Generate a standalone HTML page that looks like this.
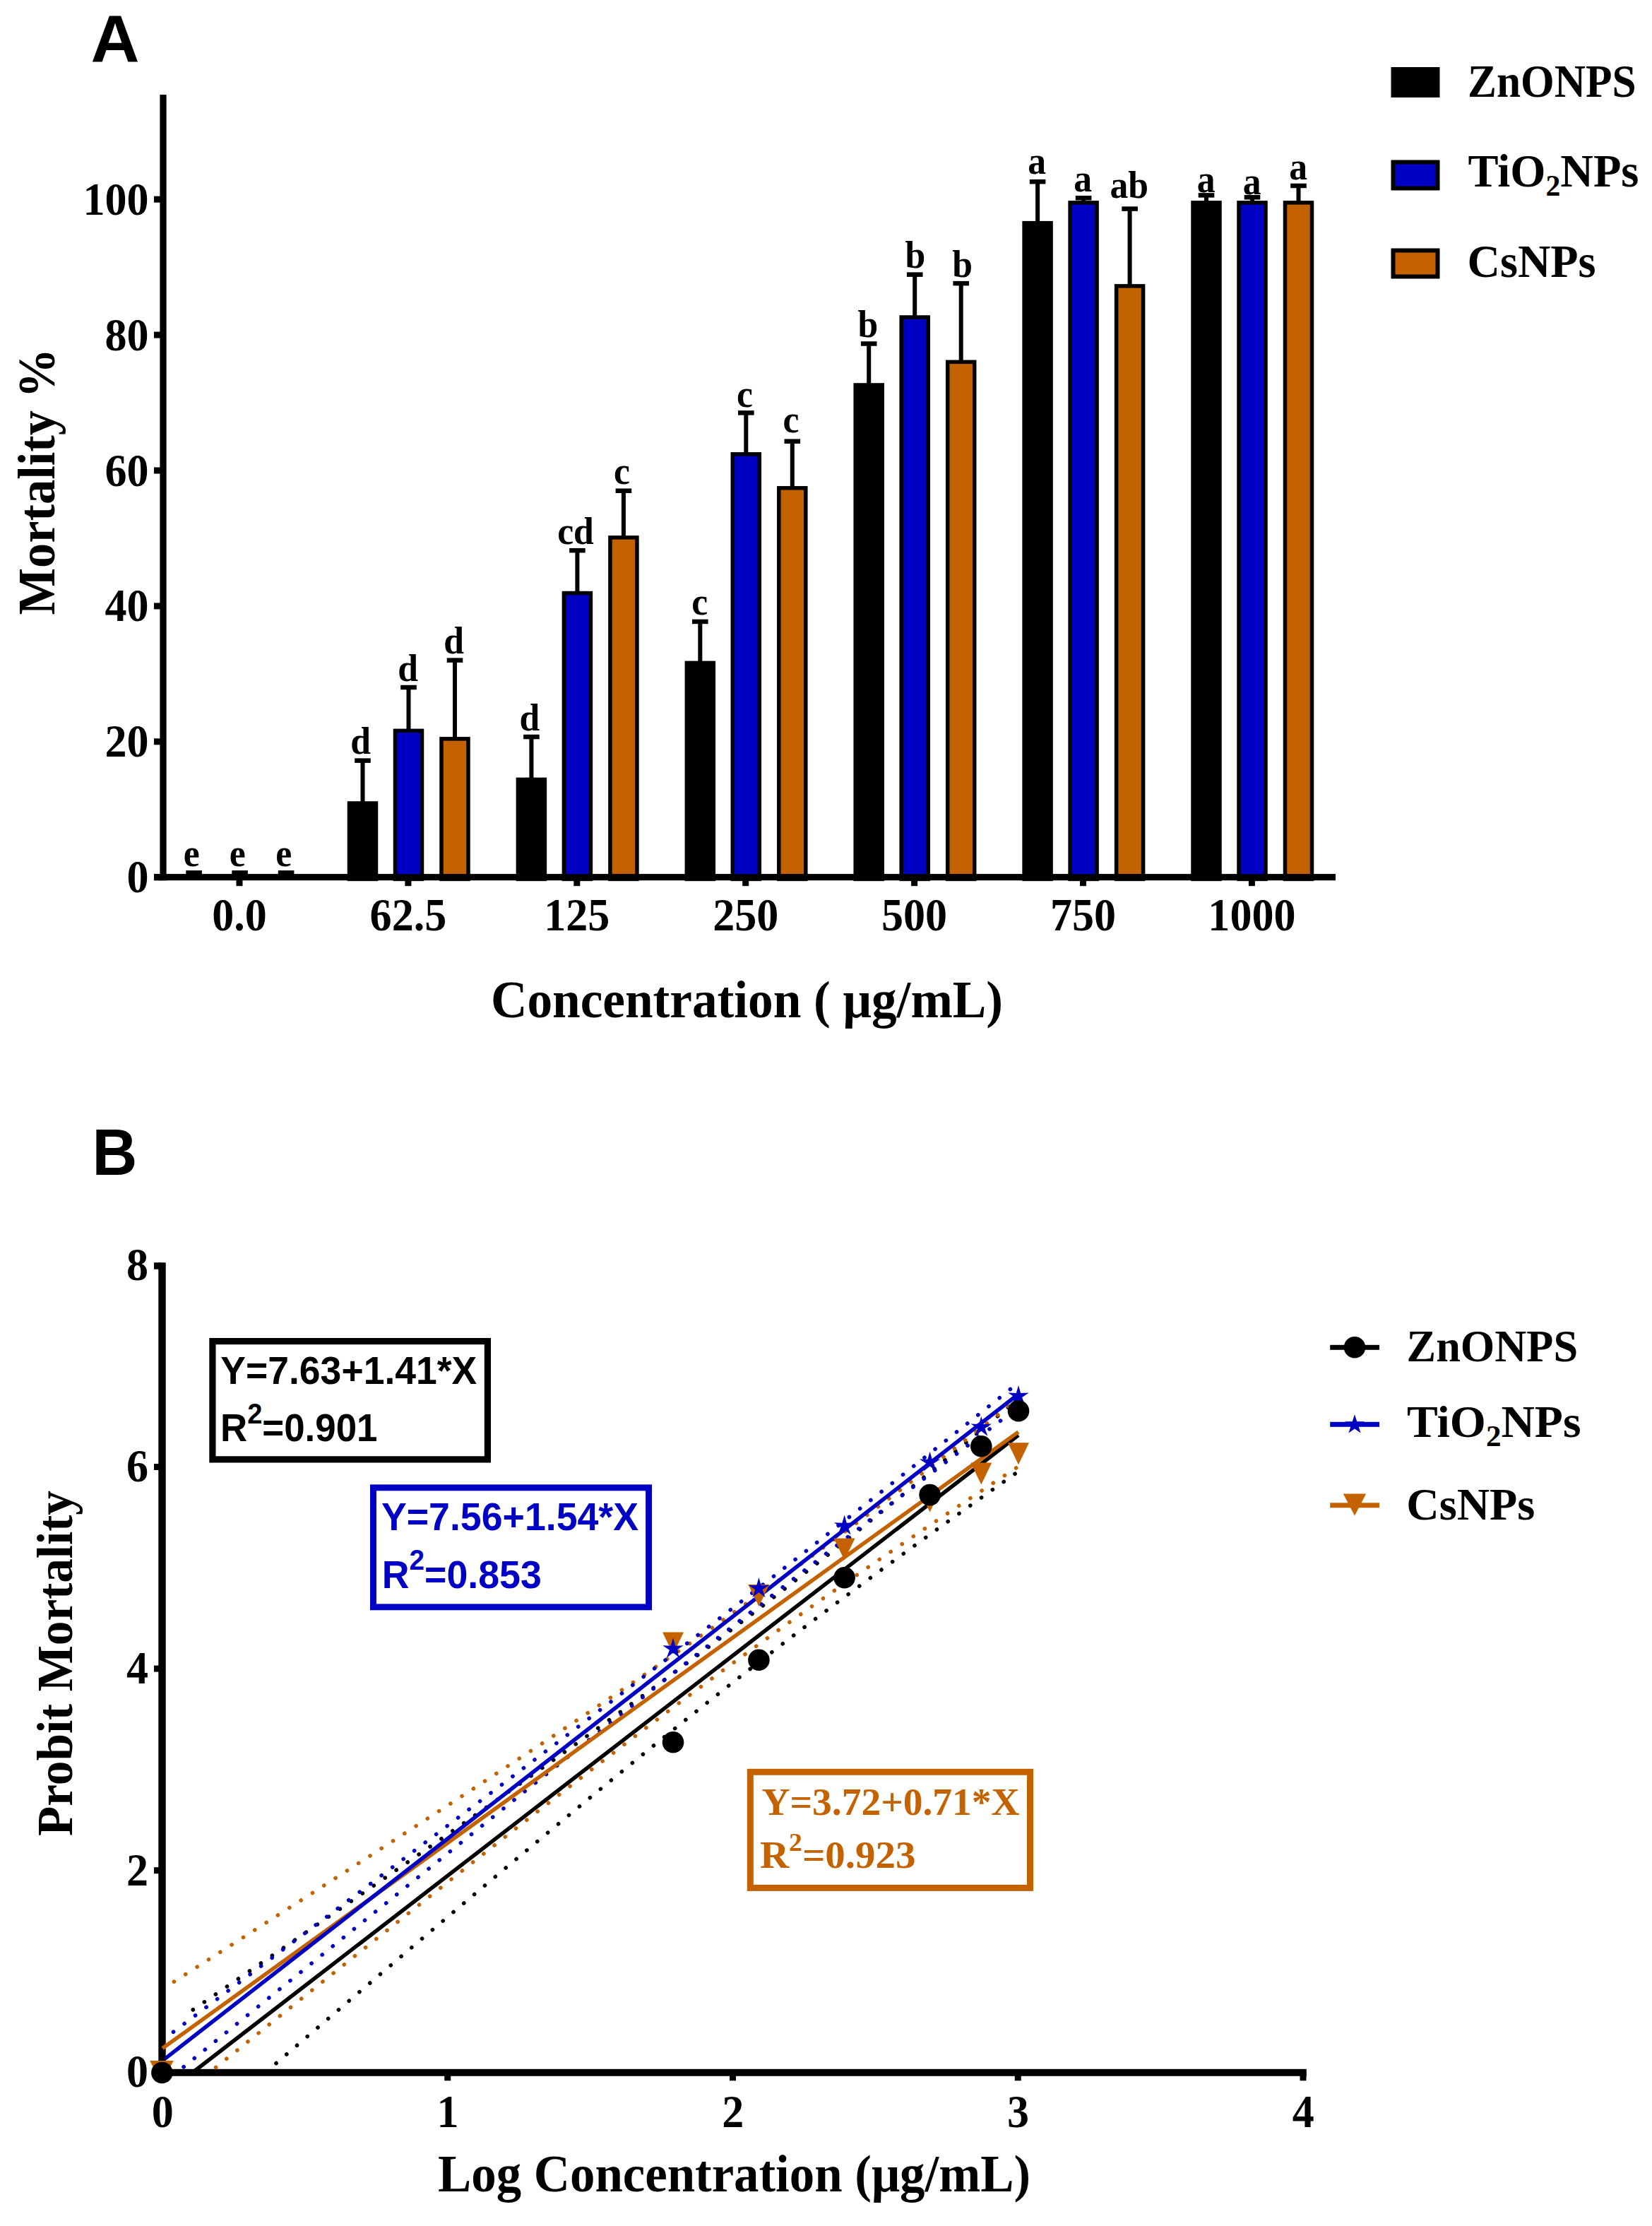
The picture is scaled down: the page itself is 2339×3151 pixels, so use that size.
<!DOCTYPE html>
<html lang="en">
<head>
<meta charset="utf-8">
<title>Mortality and probit regression figure</title>
<style>
html,body{margin:0;padding:0;background:#fff;}
body{width:2339px;height:3151px;overflow:hidden;}
svg{display:block;}
</style>
</head>
<body>
<svg width="2339" height="3151" viewBox="0 0 2339 3151">
<rect width="2339" height="3151" fill="#fff"/>
<g id="panelA">
<text x="128.5" y="88" font-family='"Liberation Sans", sans-serif' font-weight="700" font-size="95" textLength="69" lengthAdjust="spacingAndGlyphs">A</text>
<rect x="271.6" y="1235.46" width="6" height="8.24" fill="#000"/>
<rect x="263.3" y="1232.16" width="22.6" height="6.5" fill="#000"/>
<text transform="translate(271.2 1225.96) scale(0.94 1)" text-anchor="middle" font-family='"Liberation Serif", serif' font-weight="700" font-size="55">e</text>
<rect x="336.6" y="1235.46" width="6" height="8.24" fill="#000"/>
<rect x="328.3" y="1232.16" width="22.6" height="6.5" fill="#000"/>
<text transform="translate(336.2 1225.96) scale(0.94 1)" text-anchor="middle" font-family='"Liberation Serif", serif' font-weight="700" font-size="55">e</text>
<rect x="402.1" y="1235.46" width="6" height="8.24" fill="#000"/>
<rect x="393.8" y="1232.16" width="22.6" height="6.5" fill="#000"/>
<text transform="translate(401.7 1225.96) scale(0.94 1)" text-anchor="middle" font-family='"Liberation Serif", serif' font-weight="700" font-size="55">e</text>
<rect x="510.5" y="1076.67" width="6" height="59.57" fill="#000"/>
<rect x="502.2" y="1073.37" width="22.6" height="6.5" fill="#000"/>
<rect x="494.5" y="1136.99" width="38" height="107.46" fill="#000000" stroke="#000" stroke-width="5.5"/>
<text transform="translate(510.6 1067.17) scale(0.94 1)" text-anchor="middle" font-family='"Liberation Serif", serif' font-weight="700" font-size="55">d</text>
<rect x="575.5" y="973.04" width="6" height="60.53" fill="#000"/>
<rect x="567.2" y="969.74" width="22.6" height="6.5" fill="#000"/>
<rect x="559.5" y="1034.32" width="38" height="210.13" fill="#0000C4" stroke="#000" stroke-width="5.5"/>
<text transform="translate(577.6 963.54) scale(0.94 1)" text-anchor="middle" font-family='"Liberation Serif", serif' font-weight="700" font-size="55">d</text>
<rect x="641" y="934.66" width="6" height="110.42" fill="#000"/>
<rect x="632.7" y="931.36" width="22.6" height="6.5" fill="#000"/>
<rect x="625" y="1045.83" width="38" height="198.62" fill="#C46200" stroke="#000" stroke-width="5.5"/>
<text transform="translate(642.7 925.16) scale(0.94 1)" text-anchor="middle" font-family='"Liberation Serif", serif' font-weight="700" font-size="55">d</text>
<rect x="749.4" y="1043.08" width="6" height="59.57" fill="#000"/>
<rect x="741.1" y="1039.78" width="22.6" height="6.5" fill="#000"/>
<rect x="733.4" y="1103.4" width="38" height="141.05" fill="#000000" stroke="#000" stroke-width="5.5"/>
<text transform="translate(750 1033.58) scale(0.94 1)" text-anchor="middle" font-family='"Liberation Serif", serif' font-weight="700" font-size="55">d</text>
<rect x="814.4" y="779.22" width="6" height="59.57" fill="#000"/>
<rect x="806.1" y="775.92" width="22.6" height="6.5" fill="#000"/>
<rect x="798.4" y="839.54" width="38" height="404.91" fill="#0000C4" stroke="#000" stroke-width="5.5"/>
<text transform="translate(815 769.72) scale(0.94 1)" text-anchor="middle" font-family='"Liberation Serif", serif' font-weight="700" font-size="55">cd</text>
<rect x="879.9" y="694.78" width="6" height="65.33" fill="#000"/>
<rect x="871.6" y="691.49" width="22.6" height="6.5" fill="#000"/>
<rect x="863.9" y="760.86" width="38" height="483.59" fill="#C46200" stroke="#000" stroke-width="5.5"/>
<text transform="translate(880.5 685.28) scale(0.94 1)" text-anchor="middle" font-family='"Liberation Serif", serif' font-weight="700" font-size="55">c</text>
<rect x="988.3" y="879.97" width="6" height="57.65" fill="#000"/>
<rect x="980" y="876.67" width="22.6" height="6.5" fill="#000"/>
<rect x="972.3" y="938.37" width="38" height="306.08" fill="#000000" stroke="#000" stroke-width="5.5"/>
<text transform="translate(990.7 870.47) scale(0.94 1)" text-anchor="middle" font-family='"Liberation Serif", serif' font-weight="700" font-size="55">c</text>
<rect x="1053.3" y="584.44" width="6" height="57.65" fill="#000"/>
<rect x="1045" y="581.14" width="22.6" height="6.5" fill="#000"/>
<rect x="1037.3" y="642.84" width="38" height="601.61" fill="#0000C4" stroke="#000" stroke-width="5.5"/>
<text transform="translate(1054.4 575.94) scale(0.94 1)" text-anchor="middle" font-family='"Liberation Serif", serif' font-weight="700" font-size="55">c</text>
<rect x="1118.8" y="624.74" width="6" height="65.33" fill="#000"/>
<rect x="1110.5" y="621.44" width="22.6" height="6.5" fill="#000"/>
<rect x="1102.8" y="690.82" width="38" height="553.63" fill="#C46200" stroke="#000" stroke-width="5.5"/>
<text transform="translate(1119.9 611.74) scale(0.94 1)" text-anchor="middle" font-family='"Liberation Serif", serif' font-weight="700" font-size="55">c</text>
<rect x="1227.2" y="486.57" width="6" height="57.65" fill="#000"/>
<rect x="1218.9" y="483.27" width="22.6" height="6.5" fill="#000"/>
<rect x="1211.2" y="544.97" width="38" height="699.48" fill="#000000" stroke="#000" stroke-width="5.5"/>
<text transform="translate(1228.8 477.07) scale(0.94 1)" text-anchor="middle" font-family='"Liberation Serif", serif' font-weight="700" font-size="55">b</text>
<rect x="1292.2" y="388.7" width="6" height="59.57" fill="#000"/>
<rect x="1283.9" y="385.4" width="22.6" height="6.5" fill="#000"/>
<rect x="1276.2" y="449.02" width="38" height="795.43" fill="#0000C4" stroke="#000" stroke-width="5.5"/>
<text transform="translate(1295.8 379.2) scale(0.94 1)" text-anchor="middle" font-family='"Liberation Serif", serif' font-weight="700" font-size="55">b</text>
<rect x="1357.7" y="401.18" width="6" height="110.42" fill="#000"/>
<rect x="1349.4" y="397.88" width="22.6" height="6.5" fill="#000"/>
<rect x="1341.7" y="512.35" width="38" height="732.1" fill="#C46200" stroke="#000" stroke-width="5.5"/>
<text transform="translate(1362.7 391.68) scale(0.94 1)" text-anchor="middle" font-family='"Liberation Serif", serif' font-weight="700" font-size="55">b</text>
<rect x="1466.1" y="257.25" width="6" height="57.65" fill="#000"/>
<rect x="1457.8" y="253.95" width="22.6" height="6.5" fill="#000"/>
<rect x="1450.1" y="315.65" width="38" height="928.8" fill="#000000" stroke="#000" stroke-width="5.5"/>
<text transform="translate(1468.2 245.75) scale(0.94 1)" text-anchor="middle" font-family='"Liberation Serif", serif' font-weight="700" font-size="55">a</text>
<rect x="1531.1" y="280.28" width="6" height="5.84" fill="#000"/>
<rect x="1522.8" y="276.98" width="22.6" height="6.5" fill="#000"/>
<rect x="1515.1" y="286.87" width="38" height="957.58" fill="#0000C4" stroke="#000" stroke-width="5.5"/>
<text transform="translate(1533.2 270.78) scale(0.94 1)" text-anchor="middle" font-family='"Liberation Serif", serif' font-weight="700" font-size="55">a</text>
<rect x="1596.6" y="295.63" width="6" height="108.5" fill="#000"/>
<rect x="1588.3" y="292.33" width="22.6" height="6.5" fill="#000"/>
<rect x="1580.6" y="404.89" width="38" height="839.56" fill="#C46200" stroke="#000" stroke-width="5.5"/>
<text transform="translate(1598.7 280.13) scale(0.94 1)" text-anchor="middle" font-family='"Liberation Serif", serif' font-weight="700" font-size="55">ab</text>
<rect x="1705" y="276.44" width="6" height="9.68" fill="#000"/>
<rect x="1696.7" y="273.14" width="22.6" height="6.5" fill="#000"/>
<rect x="1689" y="286.87" width="38" height="957.58" fill="#000000" stroke="#000" stroke-width="5.5"/>
<text transform="translate(1707.6 271.94) scale(0.94 1)" text-anchor="middle" font-family='"Liberation Serif", serif' font-weight="700" font-size="55">a</text>
<rect x="1770" y="279.32" width="6" height="6.8" fill="#000"/>
<rect x="1761.7" y="276.02" width="22.6" height="6.5" fill="#000"/>
<rect x="1754" y="286.87" width="38" height="957.58" fill="#0000C4" stroke="#000" stroke-width="5.5"/>
<text transform="translate(1772.6 275.32) scale(0.94 1)" text-anchor="middle" font-family='"Liberation Serif", serif' font-weight="700" font-size="55">a</text>
<rect x="1835.5" y="263.01" width="6" height="23.11" fill="#000"/>
<rect x="1827.2" y="259.71" width="22.6" height="6.5" fill="#000"/>
<rect x="1819.5" y="286.87" width="38" height="957.58" fill="#C46200" stroke="#000" stroke-width="5.5"/>
<text transform="translate(1838.1 253.51) scale(0.94 1)" text-anchor="middle" font-family='"Liberation Serif", serif' font-weight="700" font-size="55">a</text>
<rect x="226.4" y="134" width="9.2" height="1112.3" fill="#000"/>
<rect x="218" y="1237.1" width="1673" height="9.2" fill="#000"/>
<rect x="218" y="1237.2" width="10" height="9" fill="#000"/>
<text transform="translate(210.5 1263.2) scale(0.94 1)" text-anchor="end" font-family='"Liberation Serif", serif' font-weight="700" font-size="66">0</text>
<rect x="218" y="1045.3" width="10" height="9" fill="#000"/>
<text transform="translate(210.5 1071.3) scale(0.94 1)" text-anchor="end" font-family='"Liberation Serif", serif' font-weight="700" font-size="66">20</text>
<rect x="218" y="853.4" width="10" height="9" fill="#000"/>
<text transform="translate(210.5 879.4) scale(0.94 1)" text-anchor="end" font-family='"Liberation Serif", serif' font-weight="700" font-size="66">40</text>
<rect x="218" y="661.5" width="10" height="9" fill="#000"/>
<text transform="translate(210.5 687.5) scale(0.94 1)" text-anchor="end" font-family='"Liberation Serif", serif' font-weight="700" font-size="66">60</text>
<rect x="218" y="469.6" width="10" height="9" fill="#000"/>
<text transform="translate(210.5 495.6) scale(0.94 1)" text-anchor="end" font-family='"Liberation Serif", serif' font-weight="700" font-size="66">80</text>
<rect x="218" y="277.7" width="10" height="9" fill="#000"/>
<text transform="translate(210.5 303.7) scale(0.94 1)" text-anchor="end" font-family='"Liberation Serif", serif' font-weight="700" font-size="66">100</text>
<rect x="334.5" y="1241.7" width="9" height="12.5" fill="#000"/>
<text transform="translate(339 1316.8) scale(0.94 1)" text-anchor="middle" font-family='"Liberation Serif", serif' font-weight="700" font-size="66">0.0</text>
<rect x="573.4" y="1241.7" width="9" height="12.5" fill="#000"/>
<text transform="translate(577.9 1316.8) scale(0.94 1)" text-anchor="middle" font-family='"Liberation Serif", serif' font-weight="700" font-size="66">62.5</text>
<rect x="812.3" y="1241.7" width="9" height="12.5" fill="#000"/>
<text transform="translate(816.8 1316.8) scale(0.94 1)" text-anchor="middle" font-family='"Liberation Serif", serif' font-weight="700" font-size="66">125</text>
<rect x="1051.2" y="1241.7" width="9" height="12.5" fill="#000"/>
<text transform="translate(1055.7 1316.8) scale(0.94 1)" text-anchor="middle" font-family='"Liberation Serif", serif' font-weight="700" font-size="66">250</text>
<rect x="1290.1" y="1241.7" width="9" height="12.5" fill="#000"/>
<text transform="translate(1294.6 1316.8) scale(0.94 1)" text-anchor="middle" font-family='"Liberation Serif", serif' font-weight="700" font-size="66">500</text>
<rect x="1529" y="1241.7" width="9" height="12.5" fill="#000"/>
<text transform="translate(1533.5 1316.8) scale(0.94 1)" text-anchor="middle" font-family='"Liberation Serif", serif' font-weight="700" font-size="66">750</text>
<rect x="1767.9" y="1241.7" width="9" height="12.5" fill="#000"/>
<text transform="translate(1772.4 1316.8) scale(0.94 1)" text-anchor="middle" font-family='"Liberation Serif", serif' font-weight="700" font-size="66">1000</text>
<text transform="translate(76.5 870.5) rotate(-90)" font-family='"Liberation Serif", serif' font-weight="700" font-size="75" textLength="377.5" lengthAdjust="spacingAndGlyphs">Mortality %</text>
<text x="695" y="1440" font-family='"Liberation Serif", serif' font-weight="700" font-size="75" textLength="725" lengthAdjust="spacingAndGlyphs">Concentration ( μg/mL)</text>
<rect x="1972.5" y="98" width="63" height="37" fill="#000000" stroke="#000" stroke-width="6"/>
<rect x="1972.5" y="229.5" width="63" height="37" fill="#0000C4" stroke="#000" stroke-width="6"/>
<rect x="1972.5" y="354.5" width="63" height="37" fill="#C46200" stroke="#000" stroke-width="6"/>
<text x="2078" y="137.2" font-family='"Liberation Serif", serif' font-weight="700" font-size="65" textLength="238.5" lengthAdjust="spacingAndGlyphs">ZnONPS</text>
<text x="2078.5" y="264" font-family='"Liberation Serif", serif' font-weight="700" font-size="65" textLength="242" lengthAdjust="spacingAndGlyphs">TiO<tspan font-size="42" dy="13">2</tspan><tspan dy="-13">NPs</tspan></text>
<text x="2077.5" y="392" font-family='"Liberation Serif", serif' font-weight="700" font-size="65" textLength="182" lengthAdjust="spacingAndGlyphs">CsNPs</text>
</g>
<g id="panelB">
<text x="130.6" y="1663" font-family='"Liberation Sans", sans-serif' font-weight="700" font-size="92.5" textLength="63.9" lengthAdjust="spacingAndGlyphs">B</text>
<rect x="224.3" y="1787.2" width="10.4" height="1151.6" fill="#000"/>
<rect x="218" y="2928.8" width="1631.8" height="10" fill="#000"/>
<rect x="218" y="2928.8" width="10" height="9" fill="#000"/>
<text transform="translate(210 2954.2) scale(0.94 1)" text-anchor="end" font-family='"Liberation Serif", serif' font-weight="700" font-size="66">0</text>
<rect x="218" y="2643.2" width="10" height="9" fill="#000"/>
<text transform="translate(210 2668.6) scale(0.94 1)" text-anchor="end" font-family='"Liberation Serif", serif' font-weight="700" font-size="66">2</text>
<rect x="218" y="2357.6" width="10" height="9" fill="#000"/>
<text transform="translate(210 2383) scale(0.94 1)" text-anchor="end" font-family='"Liberation Serif", serif' font-weight="700" font-size="66">4</text>
<rect x="218" y="2072" width="10" height="9" fill="#000"/>
<text transform="translate(210 2097.4) scale(0.94 1)" text-anchor="end" font-family='"Liberation Serif", serif' font-weight="700" font-size="66">6</text>
<rect x="218" y="1787.2" width="10" height="9.5" fill="#000"/>
<text transform="translate(210 1811.8) scale(0.94 1)" text-anchor="end" font-family='"Liberation Serif", serif' font-weight="700" font-size="66">8</text>
<rect x="225.5" y="2933.3" width="9" height="12" fill="#000"/>
<text transform="translate(230.2 3010.5) scale(0.94 1)" text-anchor="middle" font-family='"Liberation Serif", serif' font-weight="700" font-size="66">0</text>
<rect x="629.25" y="2933.3" width="9" height="12" fill="#000"/>
<text transform="translate(633.95 3010.5) scale(0.94 1)" text-anchor="middle" font-family='"Liberation Serif", serif' font-weight="700" font-size="66">1</text>
<rect x="1033" y="2933.3" width="9" height="12" fill="#000"/>
<text transform="translate(1037.7 3010.5) scale(0.94 1)" text-anchor="middle" font-family='"Liberation Serif", serif' font-weight="700" font-size="66">2</text>
<rect x="1436.75" y="2933.3" width="9" height="12" fill="#000"/>
<text transform="translate(1441.45 3010.5) scale(0.94 1)" text-anchor="middle" font-family='"Liberation Serif", serif' font-weight="700" font-size="66">3</text>
<rect x="1840.5" y="2933.3" width="9" height="12" fill="#000"/>
<text transform="translate(1845.2 3010.5) scale(0.94 1)" text-anchor="middle" font-family='"Liberation Serif", serif' font-weight="700" font-size="66">4</text>
<clipPath id="cpB"><rect x="234.1" y="1700" width="1700" height="1234.8"/></clipPath>
<clipPath id="cpB2"><rect x="227.5" y="1700" width="1700" height="1234.8"/></clipPath>
<g clip-path="url(#cpB)">
<path d="M273.3 2844.84 L283.04 2838.19 L292.78 2831.54 L302.51 2824.89 L312.25 2818.23 L321.99 2811.57 L331.73 2804.91 L341.47 2798.24 L351.21 2791.58 L360.95 2784.91 L370.68 2778.24 L380.42 2771.57 L390.16 2764.89 L399.9 2758.21 L409.64 2751.53 L419.38 2744.84 L429.11 2738.16 L438.85 2731.47 L448.59 2724.77 L458.33 2718.08 L468.07 2711.37 L477.81 2704.67 L487.54 2697.96 L497.28 2691.25 L507.02 2684.54 L516.76 2677.82 L526.5 2671.09 L536.24 2664.36 L545.97 2657.63 L555.71 2650.89 L565.45 2644.15 L575.19 2637.4 L584.93 2630.65 L594.66 2623.89 L604.4 2617.13 L614.14 2610.36 L623.88 2603.58 L633.62 2596.8 L643.36 2590.01 L653.1 2583.22 L662.83 2576.41 L672.57 2569.6 L682.31 2562.79 L692.05 2555.96 L701.79 2549.13 L711.53 2542.29 L721.26 2535.43 L731 2528.57 L740.74 2521.7 L750.48 2514.83 L760.22 2507.94 L769.96 2501.03 L779.69 2494.12 L789.43 2487.2 L799.17 2480.26 L808.91 2473.32 L818.65 2466.36 L828.39 2459.38 L838.12 2452.39 L847.86 2445.39 L857.6 2438.38 L867.34 2431.34 L877.08 2424.29 L886.82 2417.23 L896.55 2410.15 L906.29 2403.05 L916.03 2395.93 L925.77 2388.8 L935.51 2381.64 L945.25 2374.47 L954.98 2367.28 L964.72 2360.06 L974.46 2352.83 L984.2 2345.57 L993.94 2338.29 L1003.68 2330.99 L1013.41 2323.67 L1023.15 2316.33 L1032.89 2308.96 L1042.63 2301.56 L1052.37 2294.15 L1062.11 2286.71 L1071.84 2279.24 L1081.58 2271.75 L1091.32 2264.24 L1101.06 2256.7 L1110.8 2249.14 L1120.54 2241.56 L1130.27 2233.95 L1140.01 2226.32 L1149.75 2218.66 L1159.49 2210.98 L1169.23 2203.28 L1178.97 2195.55 L1188.7 2187.81 L1198.44 2180.04 L1208.18 2172.25 L1217.92 2164.43 L1227.66 2156.6 L1237.39 2148.75 L1247.13 2140.88 L1256.87 2132.98 L1266.61 2125.07 L1276.35 2117.15 L1286.09 2109.2 L1295.83 2101.24 L1305.56 2093.26 L1315.3 2085.27 L1325.04 2077.26 L1334.78 2069.23 L1344.52 2061.19 L1354.26 2053.14 L1363.99 2045.07 L1373.73 2036.99 L1383.47 2028.9 L1393.21 2020.79 L1402.95 2012.68 L1412.68 2004.55 L1422.42 1996.41 L1432.16 1988.26 L1441.9 1980.11" fill="none" stroke="#000" stroke-width="5.6" stroke-linecap="round" stroke-dasharray="0.1 19.3"/>
<path d="M273.3 3021.76 L283.04 3013.38 L292.78 3005 L302.51 2996.62 L312.25 2988.25 L321.99 2979.88 L331.73 2971.51 L341.47 2963.15 L351.21 2954.78 L360.95 2946.42 L370.68 2938.06 L380.42 2929.7 L390.16 2921.35 L399.9 2913 L409.64 2904.65 L419.38 2896.31 L429.11 2887.96 L438.85 2879.62 L448.59 2871.29 L458.33 2862.95 L468.07 2854.63 L477.81 2846.3 L487.54 2837.98 L497.28 2829.66 L507.02 2821.34 L516.76 2813.03 L526.5 2804.73 L536.24 2796.43 L545.97 2788.13 L555.71 2779.84 L565.45 2771.55 L575.19 2763.27 L584.93 2754.99 L594.66 2746.72 L604.4 2738.45 L614.14 2730.19 L623.88 2721.94 L633.62 2713.69 L643.36 2705.45 L653.1 2697.21 L662.83 2688.99 L672.57 2680.77 L682.31 2672.55 L692.05 2664.35 L701.79 2656.15 L711.53 2647.96 L721.26 2639.79 L731 2631.62 L740.74 2623.46 L750.48 2615.3 L760.22 2607.16 L769.96 2599.04 L779.69 2590.92 L789.43 2582.81 L799.17 2574.72 L808.91 2566.63 L818.65 2558.56 L828.39 2550.51 L838.12 2542.47 L847.86 2534.44 L857.6 2526.42 L867.34 2518.43 L877.08 2510.45 L886.82 2502.48 L896.55 2494.53 L906.29 2486.6 L916.03 2478.69 L925.77 2470.79 L935.51 2462.92 L945.25 2455.06 L954.98 2447.22 L964.72 2439.41 L974.46 2431.61 L984.2 2423.84 L993.94 2416.09 L1003.68 2408.36 L1013.41 2400.65 L1023.15 2392.96 L1032.89 2385.3 L1042.63 2377.67 L1052.37 2370.05 L1062.11 2362.46 L1071.84 2354.9 L1081.58 2347.36 L1091.32 2339.84 L1101.06 2332.35 L1110.8 2324.88 L1120.54 2317.43 L1130.27 2310.01 L1140.01 2302.61 L1149.75 2295.24 L1159.49 2287.89 L1169.23 2280.56 L1178.97 2273.26 L1188.7 2265.97 L1198.44 2258.71 L1208.18 2251.47 L1217.92 2244.26 L1227.66 2237.06 L1237.39 2229.88 L1247.13 2222.72 L1256.87 2215.59 L1266.61 2208.47 L1276.35 2201.36 L1286.09 2194.28 L1295.83 2187.21 L1305.56 2180.16 L1315.3 2173.12 L1325.04 2166.1 L1334.78 2159.1 L1344.52 2152.11 L1354.26 2145.13 L1363.99 2138.17 L1373.73 2131.22 L1383.47 2124.28 L1393.21 2117.36 L1402.95 2110.44 L1412.68 2103.54 L1422.42 2096.65 L1432.16 2089.77 L1441.9 2082.89" fill="none" stroke="#000" stroke-width="5.6" stroke-linecap="round" stroke-dasharray="0.1 19.3"/>
<path d="M230 2815.59 L240.1 2809.14 L250.2 2802.69 L260.3 2796.24 L270.4 2789.78 L280.5 2783.33 L290.6 2776.87 L300.69 2770.41 L310.79 2763.95 L320.89 2757.49 L330.99 2751.02 L341.09 2744.55 L351.19 2738.08 L361.29 2731.61 L371.39 2725.13 L381.49 2718.66 L391.59 2712.18 L401.69 2705.69 L411.78 2699.21 L421.88 2692.72 L431.98 2686.23 L442.08 2679.73 L452.18 2673.23 L462.28 2666.73 L472.38 2660.23 L482.48 2653.72 L492.58 2647.21 L502.68 2640.69 L512.78 2634.17 L522.88 2627.65 L532.98 2621.12 L543.07 2614.59 L553.17 2608.05 L563.27 2601.51 L573.37 2594.97 L583.47 2588.41 L593.57 2581.86 L603.67 2575.29 L613.77 2568.73 L623.87 2562.15 L633.97 2555.57 L644.07 2548.99 L654.16 2542.39 L664.26 2535.79 L674.36 2529.19 L684.46 2522.57 L694.56 2515.95 L704.66 2509.32 L714.76 2502.68 L724.86 2496.03 L734.96 2489.37 L745.06 2482.71 L755.16 2476.03 L765.26 2469.34 L775.36 2462.65 L785.45 2455.94 L795.55 2449.22 L805.65 2442.48 L815.75 2435.74 L825.85 2428.98 L835.95 2422.21 L846.05 2415.43 L856.15 2408.63 L866.25 2401.81 L876.35 2394.98 L886.45 2388.14 L896.55 2381.28 L906.64 2374.4 L916.74 2367.5 L926.84 2360.59 L936.94 2353.65 L947.04 2346.7 L957.14 2339.73 L967.24 2332.74 L977.34 2325.72 L987.44 2318.69 L997.54 2311.63 L1007.64 2304.56 L1017.74 2297.46 L1027.83 2290.33 L1037.93 2283.19 L1048.03 2276.02 L1058.13 2268.83 L1068.23 2261.61 L1078.33 2254.38 L1088.43 2247.11 L1098.53 2239.83 L1108.63 2232.52 L1118.73 2225.18 L1128.83 2217.83 L1138.93 2210.45 L1149.02 2203.05 L1159.12 2195.62 L1169.22 2188.17 L1179.32 2180.7 L1189.42 2173.21 L1199.52 2165.69 L1209.62 2158.16 L1219.72 2150.6 L1229.82 2143.03 L1239.92 2135.43 L1250.02 2127.82 L1260.12 2120.19 L1270.21 2112.54 L1280.31 2104.87 L1290.41 2097.19 L1300.51 2089.49 L1310.61 2081.77 L1320.71 2074.04 L1330.81 2066.29 L1340.91 2058.53 L1351.01 2050.75 L1361.11 2042.96 L1371.21 2035.16 L1381.31 2027.35 L1391.4 2019.52 L1401.5 2011.69 L1411.6 2003.84 L1421.7 1995.98 L1431.8 1988.11 L1441.9 1980.23" fill="none" stroke="#C46200" stroke-width="5.6" stroke-linecap="round" stroke-dasharray="0.1 19.3"/>
<path d="M230 2987.3 L240.1 2979.17 L250.2 2971.04 L260.3 2962.92 L270.4 2954.79 L280.5 2946.67 L290.6 2938.55 L300.69 2930.43 L310.79 2922.31 L320.89 2914.19 L330.99 2906.08 L341.09 2897.97 L351.19 2889.86 L361.29 2881.76 L371.39 2873.65 L381.49 2865.55 L391.59 2857.46 L401.69 2849.36 L411.78 2841.27 L421.88 2833.18 L431.98 2825.09 L442.08 2817.01 L452.18 2808.93 L462.28 2800.85 L472.38 2792.78 L482.48 2784.71 L492.58 2776.65 L502.68 2768.59 L512.78 2760.53 L522.88 2752.48 L532.98 2744.43 L543.07 2736.39 L553.17 2728.35 L563.27 2720.31 L573.37 2712.28 L583.47 2704.26 L593.57 2696.24 L603.67 2688.23 L613.77 2680.22 L623.87 2672.22 L633.97 2664.23 L644.07 2656.24 L654.16 2648.26 L664.26 2640.29 L674.36 2632.33 L684.46 2624.37 L694.56 2616.42 L704.66 2608.48 L714.76 2600.55 L724.86 2592.62 L734.96 2584.71 L745.06 2576.81 L755.16 2568.91 L765.26 2561.03 L775.36 2553.16 L785.45 2545.3 L795.55 2537.45 L805.65 2529.62 L815.75 2521.8 L825.85 2513.99 L835.95 2506.19 L846.05 2498.41 L856.15 2490.65 L866.25 2482.9 L876.35 2475.17 L886.45 2467.45 L896.55 2459.75 L906.64 2452.07 L916.74 2444.41 L926.84 2436.76 L936.94 2429.14 L947.04 2421.53 L957.14 2413.95 L967.24 2406.39 L977.34 2398.84 L987.44 2391.32 L997.54 2383.83 L1007.64 2376.35 L1017.74 2368.9 L1027.83 2361.47 L1037.93 2354.07 L1048.03 2346.69 L1058.13 2339.33 L1068.23 2332 L1078.33 2324.7 L1088.43 2317.42 L1098.53 2310.16 L1108.63 2302.93 L1118.73 2295.72 L1128.83 2288.54 L1138.93 2281.38 L1149.02 2274.24 L1159.12 2267.13 L1169.22 2260.04 L1179.32 2252.98 L1189.42 2245.94 L1199.52 2238.92 L1209.62 2231.92 L1219.72 2224.95 L1229.82 2217.99 L1239.92 2211.06 L1250.02 2204.14 L1260.12 2197.25 L1270.21 2190.37 L1280.31 2183.51 L1290.41 2176.67 L1300.51 2169.85 L1310.61 2163.04 L1320.71 2156.25 L1330.81 2149.48 L1340.91 2142.72 L1351.01 2135.97 L1361.11 2129.24 L1371.21 2122.52 L1381.31 2115.81 L1391.4 2109.12 L1401.5 2102.44 L1411.6 2095.77 L1421.7 2089.11 L1431.8 2082.46 L1441.9 2075.82" fill="none" stroke="#C46200" stroke-width="5.6" stroke-linecap="round" stroke-dasharray="0.1 19.3"/>
<path d="M230 2887.92 L240.1 2880.34 L250.2 2872.76 L260.3 2865.18 L270.4 2857.61 L280.5 2850.03 L290.6 2842.44 L300.69 2834.86 L310.79 2827.28 L320.89 2819.7 L330.99 2812.11 L341.09 2804.53 L351.19 2796.94 L361.29 2789.36 L371.39 2781.77 L381.49 2774.18 L391.59 2766.6 L401.69 2759.01 L411.78 2751.42 L421.88 2743.82 L431.98 2736.23 L442.08 2728.64 L452.18 2721.04 L462.28 2713.45 L472.38 2705.85 L482.48 2698.25 L492.58 2690.65 L502.68 2683.05 L512.78 2675.45 L522.88 2667.85 L532.98 2660.24 L543.07 2652.64 L553.17 2645.03 L563.27 2637.42 L573.37 2629.81 L583.47 2622.19 L593.57 2614.58 L603.67 2606.96 L613.77 2599.34 L623.87 2591.72 L633.97 2584.1 L644.07 2576.47 L654.16 2568.85 L664.26 2561.22 L674.36 2553.58 L684.46 2545.95 L694.56 2538.31 L704.66 2530.67 L714.76 2523.03 L724.86 2515.38 L734.96 2507.73 L745.06 2500.08 L755.16 2492.42 L765.26 2484.76 L775.36 2477.1 L785.45 2469.43 L795.55 2461.76 L805.65 2454.08 L815.75 2446.4 L825.85 2438.72 L835.95 2431.03 L846.05 2423.33 L856.15 2415.63 L866.25 2407.93 L876.35 2400.22 L886.45 2392.51 L896.55 2384.78 L906.64 2377.06 L916.74 2369.33 L926.84 2361.59 L936.94 2353.84 L947.04 2346.09 L957.14 2338.33 L967.24 2330.56 L977.34 2322.79 L987.44 2315.01 L997.54 2307.22 L1007.64 2299.43 L1017.74 2291.63 L1027.83 2283.81 L1037.93 2276 L1048.03 2268.17 L1058.13 2260.33 L1068.23 2252.49 L1078.33 2244.64 L1088.43 2236.78 L1098.53 2228.91 L1108.63 2221.04 L1118.73 2213.15 L1128.83 2205.26 L1138.93 2197.36 L1149.02 2189.45 L1159.12 2181.54 L1169.22 2173.62 L1179.32 2165.68 L1189.42 2157.75 L1199.52 2149.8 L1209.62 2141.85 L1219.72 2133.88 L1229.82 2125.92 L1239.92 2117.94 L1250.02 2109.96 L1260.12 2101.97 L1270.21 2093.98 L1280.31 2085.98 L1290.41 2077.98 L1300.51 2069.96 L1310.61 2061.95 L1320.71 2053.93 L1330.81 2045.9 L1340.91 2037.87 L1351.01 2029.83 L1361.11 2021.79 L1371.21 2013.74 L1381.31 2005.69 L1391.4 1997.64 L1401.5 1989.58 L1411.6 1981.52 L1421.7 1973.45 L1431.8 1965.38 L1441.9 1957.31" fill="none" stroke="#0000C4" stroke-width="5.6" stroke-linecap="round" stroke-dasharray="0.1 19.3"/>
<path d="M230 2950.23 L240.1 2942.05 L250.2 2933.86 L260.3 2925.67 L270.4 2917.49 L280.5 2909.3 L290.6 2901.12 L300.69 2892.93 L310.79 2884.75 L320.89 2876.57 L330.99 2868.39 L341.09 2860.21 L351.19 2852.03 L361.29 2843.85 L371.39 2835.67 L381.49 2827.49 L391.59 2819.32 L401.69 2811.14 L411.78 2802.97 L421.88 2794.8 L431.98 2786.63 L442.08 2778.46 L452.18 2770.29 L462.28 2762.12 L472.38 2753.96 L482.48 2745.79 L492.58 2737.63 L502.68 2729.47 L512.78 2721.31 L522.88 2713.15 L532.98 2704.99 L543.07 2696.84 L553.17 2688.68 L563.27 2680.53 L573.37 2672.38 L583.47 2664.23 L593.57 2656.09 L603.67 2647.95 L613.77 2639.81 L623.87 2631.67 L633.97 2623.53 L644.07 2615.4 L654.16 2607.27 L664.26 2599.14 L674.36 2591.01 L684.46 2582.89 L694.56 2574.77 L704.66 2566.66 L714.76 2558.54 L724.86 2550.43 L734.96 2542.33 L745.06 2534.23 L755.16 2526.13 L765.26 2518.03 L775.36 2509.94 L785.45 2501.86 L795.55 2493.78 L805.65 2485.7 L815.75 2477.63 L825.85 2469.57 L835.95 2461.5 L846.05 2453.45 L856.15 2445.4 L866.25 2437.36 L876.35 2429.32 L886.45 2421.29 L896.55 2413.26 L906.64 2405.25 L916.74 2397.24 L926.84 2389.23 L936.94 2381.24 L947.04 2373.25 L957.14 2365.27 L967.24 2357.29 L977.34 2349.33 L987.44 2341.37 L997.54 2333.42 L1007.64 2325.48 L1017.74 2317.55 L1027.83 2309.63 L1037.93 2301.72 L1048.03 2293.82 L1058.13 2285.92 L1068.23 2278.04 L1078.33 2270.16 L1088.43 2262.29 L1098.53 2254.44 L1108.63 2246.59 L1118.73 2238.75 L1128.83 2230.92 L1138.93 2223.1 L1149.02 2215.29 L1159.12 2207.49 L1169.22 2199.7 L1179.32 2191.91 L1189.42 2184.14 L1199.52 2176.37 L1209.62 2168.61 L1219.72 2160.86 L1229.82 2153.12 L1239.92 2145.39 L1250.02 2137.66 L1260.12 2129.94 L1270.21 2122.23 L1280.31 2114.52 L1290.41 2106.82 L1300.51 2099.13 L1310.61 2091.44 L1320.71 2083.76 L1330.81 2076.09 L1340.91 2068.42 L1351.01 2060.76 L1361.11 2053.1 L1371.21 2045.45 L1381.31 2037.8 L1391.4 2030.15 L1401.5 2022.52 L1411.6 2014.88 L1421.7 2007.25 L1431.8 1999.62 L1441.9 1992" fill="none" stroke="#0000C4" stroke-width="5.6" stroke-linecap="round" stroke-dasharray="0.1 19.3"/>
</g>
<line clip-path="url(#cpB)" x1="273.3" y1="2933.3" x2="1441.9" y2="2031.5" stroke="#000" stroke-width="5.5"/>
<line clip-path="url(#cpB2)" x1="230" y1="2899.6" x2="1441.9" y2="2027" stroke="#C46200" stroke-width="5.5"/>
<line clip-path="url(#cpB)" x1="230" y1="2917" x2="1441.9" y2="1973.5" stroke="#0000C4" stroke-width="5.5"/>
<polygon points="212.1,2917 245.7,2917 228.9,2949.3" fill="#C46200"/>
<polygon points="938,2310.4 968,2310.4 953,2341.4" fill="#C46200"/>
<polygon points="1059.4,2243 1089.4,2243 1074.4,2274" fill="#C46200"/>
<polygon points="1180.6,2177.5 1210.6,2177.5 1195.6,2208.5" fill="#C46200"/>
<polygon points="1301.6,2109.5 1331.6,2109.5 1316.6,2140.5" fill="#C46200"/>
<polygon points="1374.3,2070.5 1404.3,2070.5 1389.3,2101.5" fill="#C46200"/>
<polygon points="1427,2042.3 1457,2042.3 1442,2073.3" fill="#C46200"/>
<polygon points="229.4,2918.8 232.57,2929.93 244.14,2929.51 234.54,2935.97 238.51,2946.84 229.4,2939.7 220.29,2946.84 224.26,2935.97 214.66,2929.51 226.23,2929.93" fill="#0000C4"/>
<polygon points="953,2318.6 956.17,2329.73 967.74,2329.31 958.14,2335.77 962.11,2346.64 953,2339.5 943.89,2346.64 947.86,2335.77 938.26,2329.31 949.83,2329.73" fill="#0000C4"/>
<polygon points="1074.4,2233.1 1077.57,2244.23 1089.14,2243.81 1079.54,2250.27 1083.51,2261.14 1074.4,2254 1065.29,2261.14 1069.26,2250.27 1059.66,2243.81 1071.23,2244.23" fill="#0000C4"/>
<polygon points="1195.6,2144.5 1198.77,2155.63 1210.34,2155.21 1200.74,2161.67 1204.71,2172.54 1195.6,2165.4 1186.49,2172.54 1190.46,2161.67 1180.86,2155.21 1192.43,2155.63" fill="#0000C4"/>
<polygon points="1316.6,2054.7 1319.77,2065.83 1331.34,2065.41 1321.74,2071.87 1325.71,2082.74 1316.6,2075.6 1307.49,2082.74 1311.46,2071.87 1301.86,2065.41 1313.43,2065.83" fill="#0000C4"/>
<polygon points="1389.3,2004.8 1392.47,2015.93 1404.04,2015.51 1394.44,2021.97 1398.41,2032.84 1389.3,2025.7 1380.19,2032.84 1384.16,2021.97 1374.56,2015.51 1386.13,2015.93" fill="#0000C4"/>
<polygon points="1442,1960.9 1445.17,1972.03 1456.74,1971.61 1447.14,1978.07 1451.11,1988.94 1442,1981.8 1432.89,1988.94 1436.86,1978.07 1427.26,1971.61 1438.83,1972.03" fill="#0000C4"/>
<circle cx="229.4" cy="2934" r="15.3" fill="#000"/>
<circle cx="953" cy="2466.3" r="15.3" fill="#000"/>
<circle cx="1074.4" cy="2349.8" r="15.3" fill="#000"/>
<circle cx="1195.6" cy="2233.2" r="15.3" fill="#000"/>
<circle cx="1316.6" cy="2116.1" r="15.3" fill="#000"/>
<circle cx="1389.3" cy="2047.3" r="15.3" fill="#000"/>
<circle cx="1442" cy="1997.3" r="15.3" fill="#000"/>
<text transform="translate(102 2599) rotate(-90)" font-family='"Liberation Serif", serif' font-weight="700" font-size="72" textLength="489" lengthAdjust="spacingAndGlyphs">Probit Mortality</text>
<text x="620" y="3101.5" font-family='"Liberation Serif", serif' font-weight="700" font-size="74" textLength="839" lengthAdjust="spacingAndGlyphs">Log Concentration (μg/mL)</text>
<rect x="300.9" y="1898.6" width="389.5" height="167.3" fill="#fff" stroke="#000" stroke-width="9.2"/>
<text x="312.3" y="1959.2" font-family='"Liberation Sans", sans-serif' font-weight="700" font-size="55.5" textLength="363" lengthAdjust="spacingAndGlyphs">Y=7.63+1.41*X</text>
<text x="312" y="2040" font-family='"Liberation Sans", sans-serif' font-weight="700" font-size="55.5" textLength="222.5" lengthAdjust="spacingAndGlyphs">R<tspan font-size="40" dy="-25.5">2</tspan><tspan dy="25.5">=0.901</tspan></text>
<rect x="528.45" y="2105.85" width="390.1" height="169" fill="#fff" stroke="#0000C4" stroke-width="8.9"/>
<text x="540" y="2166.2" fill="#0000C4" font-family='"Liberation Sans", sans-serif' font-weight="700" font-size="55.5" textLength="364" lengthAdjust="spacingAndGlyphs">Y=7.56+1.54*X</text>
<text x="540.8" y="2247.5" fill="#0000C4" font-family='"Liberation Sans", sans-serif' font-weight="700" font-size="55.5" textLength="226" lengthAdjust="spacingAndGlyphs">R<tspan font-size="40" dy="-25.5">2</tspan><tspan dy="25.5">=0.853</tspan></text>
<rect x="1062.3" y="2508.3" width="396.2" height="164.1" fill="#fff" stroke="#C46200" stroke-width="9.0"/>
<text x="1078.5" y="2568.7" fill="#C46200" font-family='"Liberation Serif", serif' font-weight="700" font-size="54.5" textLength="365" lengthAdjust="spacingAndGlyphs">Y=3.72+0.71*X</text>
<text x="1076" y="2643.7" fill="#C46200" font-family='"Liberation Serif", serif' font-weight="700" font-size="54.5" textLength="220.5" lengthAdjust="spacingAndGlyphs">R<tspan font-size="36" dy="-24">2</tspan><tspan dy="24">=0.923</tspan></text>
<rect x="1883.2" y="1903.8" width="69.8" height="7" fill="#000000"/>
<rect x="1883.2" y="2012.8" width="69.8" height="7" fill="#0000C4"/>
<rect x="1883.2" y="2127.3" width="69.8" height="7" fill="#C46200"/>
<circle cx="1918" cy="1907.3" r="15.3" fill="#000"/>
<polygon points="1918,2002.3 1921.29,2012.27 1931.79,2012.32 1923.33,2018.53 1926.52,2028.53 1918,2022.4 1909.48,2028.53 1912.67,2018.53 1904.21,2012.32 1914.71,2012.27" fill="#0000C4"/>
<polygon points="1901.8,2114.5 1934.2,2114.5 1918,2145.6" fill="#C46200"/>
<text x="1991.6" y="1927.2" font-family='"Liberation Serif", serif' font-weight="700" font-size="64" textLength="242.5" lengthAdjust="spacingAndGlyphs">ZnONPS</text>
<text x="1992" y="2033.7" font-family='"Liberation Serif", serif' font-weight="700" font-size="64" textLength="246.5" lengthAdjust="spacingAndGlyphs">TiO<tspan font-size="42" dy="13">2</tspan><tspan dy="-13">NPs</tspan></text>
<text x="1991.3" y="2151" font-family='"Liberation Serif", serif' font-weight="700" font-size="64" textLength="182" lengthAdjust="spacingAndGlyphs">CsNPs</text>
</g>
</svg>
</body>
</html>
